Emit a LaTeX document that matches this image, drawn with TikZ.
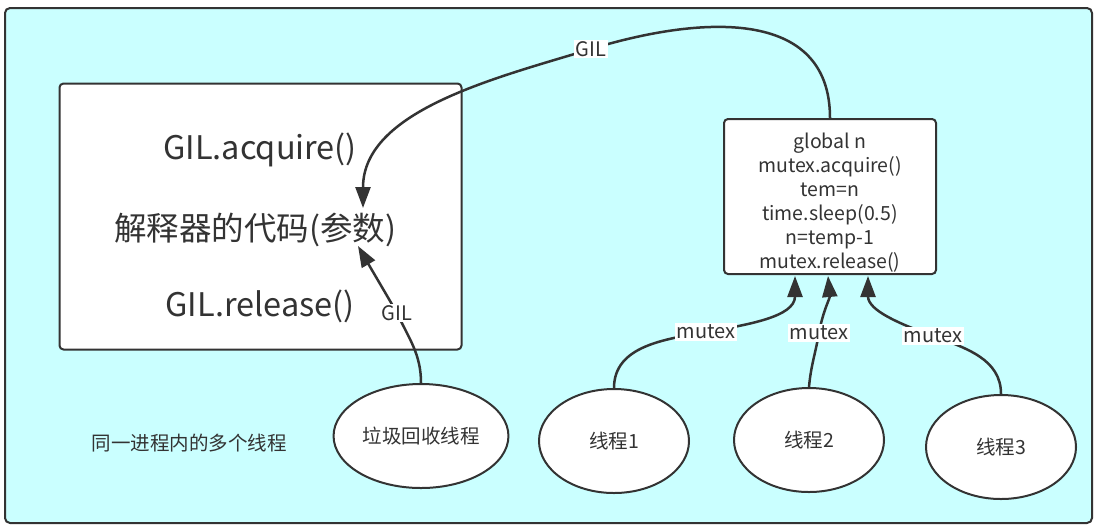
\documentclass[tikz,border=0pt]{standalone}
\usepackage{fontspec}
\setmainfont{Noto Sans CJK SC}
\usetikzlibrary{arrows.meta,shapes.geometric}

\definecolor{bgcyan}{HTML}{CAFFFF}
\definecolor{ink}{HTML}{333333}

\tikzset{
  box/.style={draw=ink, line width=2pt, fill=white, rounded corners=4pt},
  bigtext/.style={text=ink, font=\fontsize{32.5}{38}\selectfont},
  thread/.style={ellipse, draw=ink, line width=2pt, fill=white,
    minimum width=150pt, minimum height=104pt, text=ink,
    font=\fontsize{19.5}{22}\selectfont},
  link/.style={draw=ink, line width=2.5pt, -{Triangle[length=21pt,width=15pt]}},
  tag/.style={fill=white, inner sep=1.5pt, text=ink, font=\fontsize{20}{22}\selectfont},
}

\begin{document}
\begin{tikzpicture}[x=1pt,y=1pt]

\useasboundingbox (0,0) rectangle (1099,-531);

% ---------- background ----------
\draw[draw=ink, line width=2pt, fill=bgcyan, rounded corners=5pt]
  (5,-8) rectangle (1092,-523);

% ---------- interpreter box ----------
\node[box, minimum width=402pt, minimum height=266pt] (interp) at (260.5,-216.5) {};
\node[bigtext] (acq) at (260,-150) {GIL.acquire()};
\node[bigtext] (body) at (255,-230) {解释器的代码(参数)};
\node[bigtext] (rel) at (260,-306) {GIL.release()};

% ---------- thread code box ----------
\node[box, minimum width=212pt, minimum height=155pt] (code) at (830,-196.5) {};
\node[align=center, text=ink, font=\fontsize{19.5}{24}\selectfont] (codetext) at (830,-203)
  {global n\\mutex.acquire()\\tem=n\\time.sleep(0.5)\\n=temp-1\\mutex.release()};

% ---------- threads ----------
\node[thread] (gc) at (421,-436) {垃圾回收线程};
\node[thread] (t1) at (614,-441) {线程1};
\node[thread] (t2) at (809,-440) {线程2};
\node[thread] (t3) at (1001,-447) {线程3};

\node[text=ink, font=\fontsize{19.5}{22}\selectfont] (caption) at (189,-443) {同一进程内的多个线程};

% ---------- connectors ----------
\coordinate (inA) at (363,-208);
\coordinate (inB) at (358,-246);
\coordinate (in1) at (795,-276);
\coordinate (in2) at (828,-276);
\coordinate (in3) at (868,-276);

\coordinate (gilt) at (591,-49);
\coordinate (gilb) at (397,-313);
\coordinate (m1) at (706,-332);
\coordinate (m2) at (819,-333);
\coordinate (m3) at (933,-336);

\draw[link] (code.north) to[out=90,in=17,looseness=1.15] (gilt)
  to[out=197,in=90,looseness=0.9] (inA);
\draw[link] (gc.north) to[out=90,in=-65] (gilb) to[out=120,in=-60] (inB);

\draw[link] (t1.north) to[out=90,in=190] (m1) to[out=10,in=-90] (in1);
\draw[link] (t2.north) to[out=85,in=-100] (m2) to[out=80,in=-85] (in2);
\draw[link] (t3.north) to[out=90,in=-20] (m3) to[out=160,in=-90] (in3);

% ---------- labels ----------
\node[tag] (lgilt) at (gilt) {GIL};
\node[tag] (lgilb) at (gilb) {GIL};
\node[tag] (lm1) at (m1) {mutex};
\node[tag] (lm2) at (m2) {mutex};
\node[tag] (lm3) at (m3) {mutex};

\end{tikzpicture}
\end{document}
